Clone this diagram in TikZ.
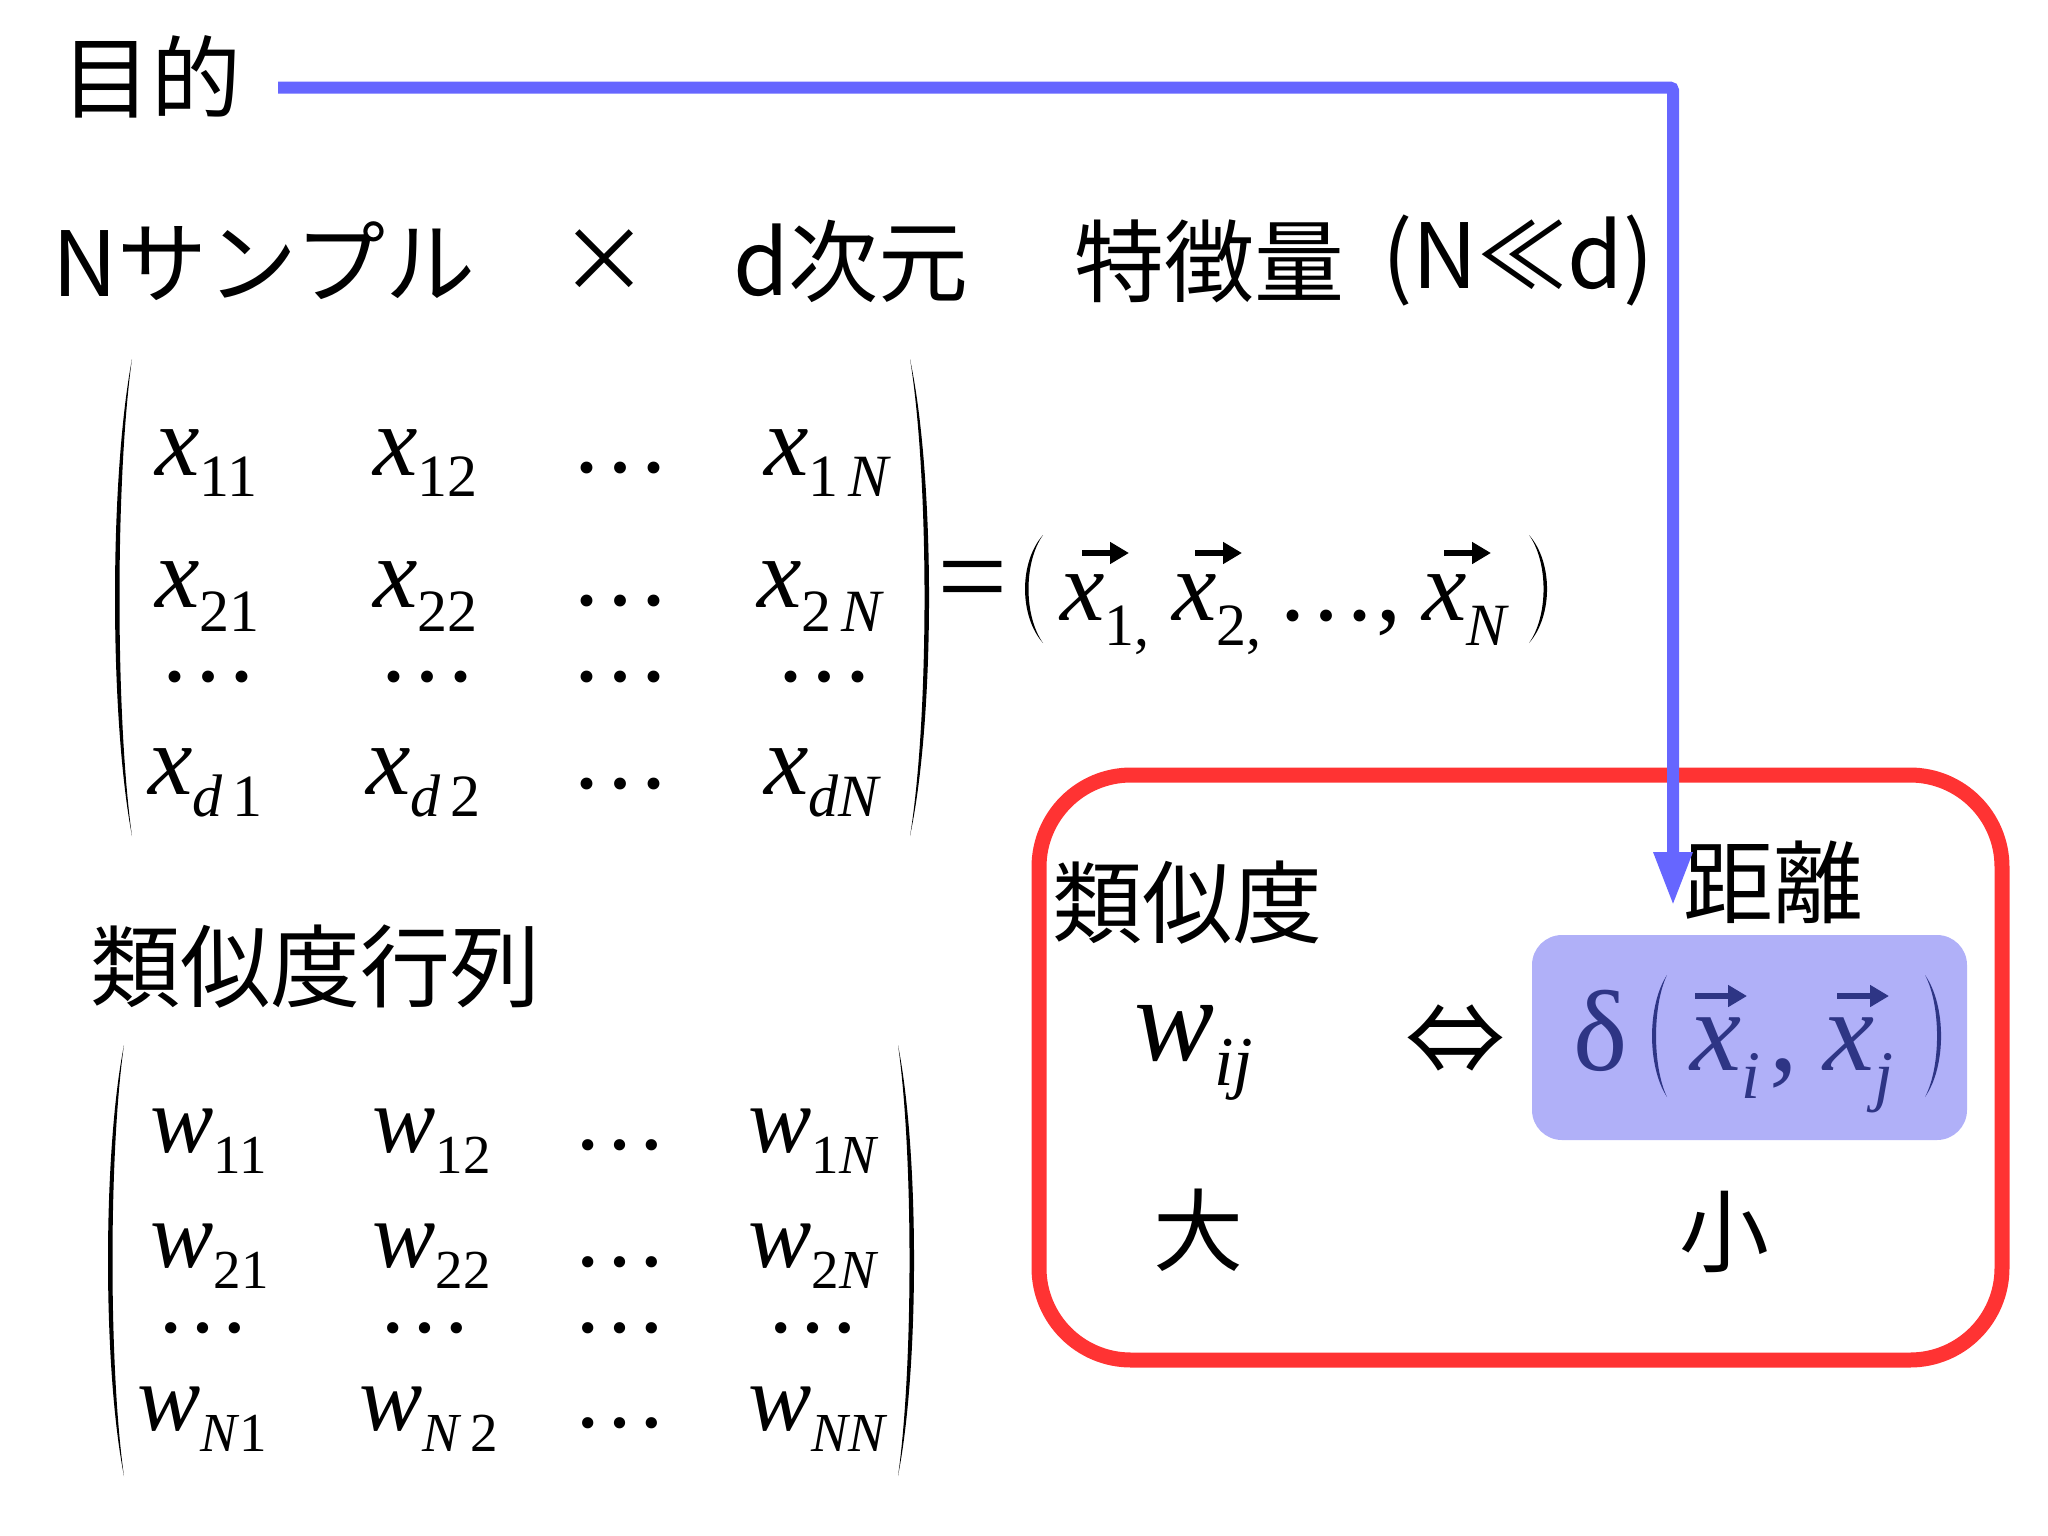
\documentclass[tikz,border=0pt]{standalone}
\usepackage{fontspec}
\setmainfont{Liberation Serif}
\newfontfamily\jp{Noto Sans CJK JP}
\usetikzlibrary{arrows.meta,calc}
\definecolor{arrowblue}{HTML}{6666FF}
\definecolor{boxred}{HTML}{FF3333}
\definecolor{boxfill}{HTML}{B0B0F8}
\definecolor{navy}{HTML}{2E3585}
\newcommand\fs[1]{\fontsize{#1}{#1}\selectfont}
\newcommand\subsc[3]{\raisebox{-#1pt}{\fs{#2}\upshape #3}}
% crescent-shaped parenthesis: x_end, x_mid, y_top, y_bot, signed thickness, colour
\newcommand\drawparen[6]{\fill[#6] (#1,#3) .. controls ({(#2-0.25*#1)/0.75},{#3+(#4-#3)*0.25}) and ({(#2-0.25*#1)/0.75},{#4-(#4-#3)*0.25}) .. (#1,#4) .. controls ({(#2+#5-0.25*#1)/0.75},{#4-(#4-#3)*0.25}) and ({(#2+#5-0.25*#1)/0.75},{#3+(#4-#3)*0.25}) .. cycle;}
\begin{document}
\begin{tikzpicture}[x=1pt,y=-1pt,
  jp/.style={font=\jp\fs{90}, inner sep=0pt},
  xe/.style={font=\fs{100}, inner sep=0pt, anchor=base west},
  we/.style={font=\fs{95}, inner sep=0pt, anchor=base west},
  xdots/.style={font=\fs{100}, inner sep=0pt},
  wdots/.style={font=\fs{95}, inner sep=0pt},
  de/.style={font=\fs{115}, inner sep=0pt, anchor=base west, text=navy},
  conn/.style={draw=arrowblue, line width=12pt, rounded corners=3pt, -{Triangle[length=54pt,width=36pt]}},
  redbox/.style={draw=boxred, line width=15pt, rounded corners=92pt, minimum width=963pt, minimum height=585pt, inner sep=0pt},
  bluebox/.style={fill=boxfill, rounded corners=30pt, minimum width=435pt, minimum height=205pt, inner sep=0pt},
  vecarr/.style={line width=5.5pt, -{Triangle[length=19pt,width=21pt]}},
]
\useasboundingbox (0,0) rectangle (2048,1535);

% ---- top labels
\node[jp] (mokuteki) at (151,77) {目的};
\node[jp] (samples) at (264,261) {Nサンプル};
\node[jp] (times) at (604,261) {×};
\node[jp] (dims) at (851,261) {d次元};
\node[jp] (feat) at (1209,261) {特徴量};
\node[jp] (cond) at (1518,261) {(N≪d)};

% ---- data matrix X
\drawparen{132}{115}{359}{836}{4.5}{black}
\drawparen{910}{929}{359}{836}{-4.5}{black}
\node[xe] (x11) at (155,475) {\textit{x}\subsc{21}{60}{11}};
\node[xe] (x12) at (373,475) {\textit{x}\subsc{21}{60}{12}};
\node[xdots] (x13) at (620,468) {…};
\node[xe] (x1N) at (764,475) {\textit{x}\subsc{21}{60}{1\,\textit{N}}};
\node[xe] (x21) at (155,607) {\textit{x}\subsc{24}{60}{21}};
\node[xe] (x22) at (373,607) {\textit{x}\subsc{24}{60}{22}};
\node[xdots] (x23) at (620,601) {…};
\node[xe] (x2N) at (757,607) {\textit{x}\subsc{24}{60}{2\,\textit{N}}};
\node[xdots] (x31) at (208,677) {…};
\node[xdots] (x32) at (427,677) {…};
\node[xdots] (x33) at (620,677) {…};
\node[xdots] (x34) at (824,677) {…};
\node[xe] (xd1) at (148,794) {\textit{x}\subsc{22}{60}{\textit{d}\,1}};
\node[xe] (xd2) at (366,794) {\textit{x}\subsc{22}{60}{\textit{d}\,2}};
\node[xdots] (xd3) at (620,784) {…};
\node[xe] (xdN) at (764,794) {\textit{x}\subsc{22}{60}{\textit{dN}}};

% ---- = ( x1, x2, ..., xN )
\node[font=\fs{125}, inner sep=0pt] (eq) at (973,590) {=};
\drawparen{1043}{1025}{535}{643}{3.5}{black}
\drawparen{1529}{1547}{535}{643}{-3.5}{black}
\node[xe] (v1) at (1060,620) {\textit{x}\subsc{25}{60}{1,}};
\node[xe] (v2) at (1172,620) {\textit{x}\subsc{25}{60}{2,}};
\node[xe] (vdots) at (1276,620) {…,};
\node[xe] (vN) at (1422,620) {\textit{x}\subsc{25}{60}{\textit{N}}};
\draw[vecarr] ($(v1.base west)+(22,-67)$) -- ++(47,0);
\draw[vecarr] ($(v2.base west)+(23,-67)$) -- ++(47,0);
\draw[vecarr] ($(vN.base west)+(22,-67)$) -- ++(47,0);

% ---- similarity matrix W
\node[jp] (simmat) at (315,967) {類似度行列};
\drawparen{124}{108}{1045}{1476}{4.5}{black}
\drawparen{898}{914}{1045}{1476}{-4.5}{black}
\node[we] (w11) at (150,1152) {\textit{w}\subsc{21}{55}{11}};
\node[we] (w12) at (372,1152) {\textit{w}\subsc{21}{55}{12}};
\node[wdots] (w13) at (620,1145) {…};
\node[we] (w1N) at (748,1152) {\textit{w}\subsc{21}{55}{1\textit{N}}};
\node[we] (w21) at (150,1267) {\textit{w}\subsc{21}{55}{21}};
\node[we] (w22) at (372,1267) {\textit{w}\subsc{21}{55}{22}};
\node[wdots] (w23) at (620,1262) {…};
\node[we] (w2N) at (748,1267) {\textit{w}\subsc{21}{55}{2\textit{N}}};
\node[wdots] (w31) at (203,1328) {…};
\node[wdots] (w32) at (425,1328) {…};
\node[wdots] (w33) at (620,1328) {…};
\node[wdots] (w34) at (813,1328) {…};
\node[we] (wN1) at (137,1430) {\textit{w}\subsc{21}{55}{\textit{N}1}};
\node[we] (wN2) at (359,1430) {\textit{w}\subsc{21}{55}{\textit{N}\,2}};
\node[wdots] (wN3) at (620,1423) {…};
\node[we] (wNN) at (748,1430) {\textit{w}\subsc{21}{55}{\textit{NN}}};

% ---- red frame and its content
\node[redbox] (frame) at (1520.5,1067.5) {};
\node[bluebox] (dbox) at (1749.5,1037.5) {};
\node[jp] (ruiji) at (1187,903) {類似度};
\node[jp] (kyori) at (1773,882) {距離};
\node[font=\fs{120}, inner sep=0pt, anchor=base west] (wij) at (1134,1060) {\textit{w}\subsc{25}{70}{\textit{ij}}};
\node[font=\jp\fs{100}, inner sep=0pt] (equiv) at (1455,1040) {⇔};
\node[de] (delta) at (1573,1070) {δ};
\drawparen{1667}{1652}{975}{1097}{4}{navy}
\drawparen{1925}{1941}{975}{1097}{-4}{navy}
\node[de] (xi) at (1690,1070) {\textit{x}\subsc{28}{68}{\textit{i}}};
\node[de] (comma) at (1769,1070) {,};
\node[de] (xj) at (1823,1070) {\textit{x}\subsc{28}{68}{\textit{j}}};
\draw[vecarr, navy] ($(xi.base west)+(5,-74)$) -- ++(52,0);
\draw[vecarr, navy] ($(xj.base west)+(14,-74)$) -- ++(52,0);
\node[jp] (dai) at (1198,1230) {大};
\node[jp] (shou) at (1724,1232) {小};

% ---- connector
\coordinate (tip) at (1673,906);
\draw[conn] ($(mokuteki.east)+(37,10.5)$) -| (tip);
\end{tikzpicture}
\end{document}
